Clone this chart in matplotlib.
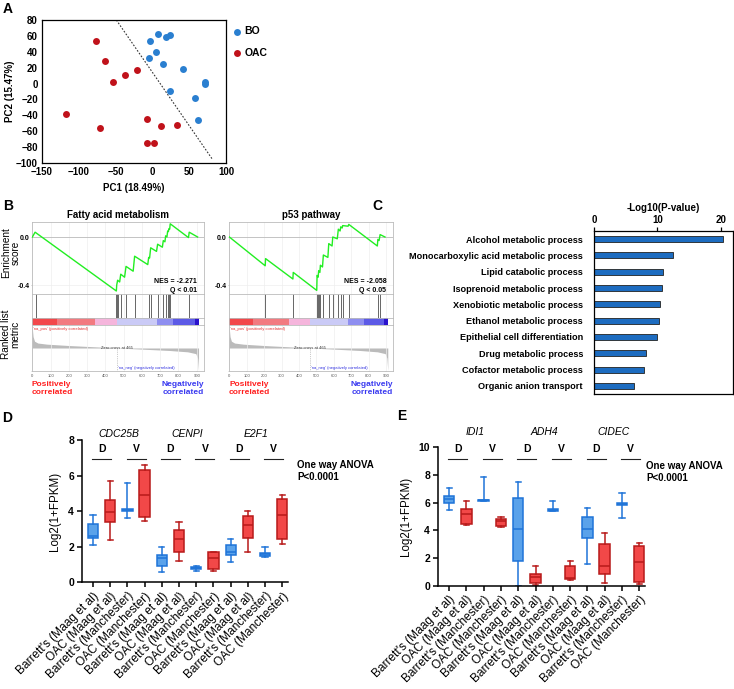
import matplotlib; matplotlib.use("Agg")
import matplotlib.pyplot as plt
import numpy as np

W, H = 734, 689
plt.rcParams['font.family'] = ['Liberation Sans', 'DejaVu Sans']
BLUE = "#2a7fd0"; RED = "#c0121a"

# ---------------- A: PCA ----------------
BO_PC1 = [7, -3, 19, 24, 5, -4, 15, 42, 72, 72, 24, 58, 62]
BO_PC2 = [63, 54, 59, 61, 40, 32, 25, 18, 2, -1, -9, -18, -46]
OAC_PC1 = [-76, -64, -21, -37, -54, -118, -71, -7, 12, 34, -7, 2]
OAC_PC2 = [53, 29, 17, 11, 2, -38, -56, -45, -53, -52, -75, -75]
DIVIDER_X = [-49, 82]
DIVIDER_Y = [80, -96]

# ---------------- B: GSEA ----------------
FA_ES_RANK = [0, 15, 460, 462, 467, 478, 484, 505, 513, 552, 560, 632, 637, 642, 648, 680, 686,
              712, 717, 726, 730, 737, 741, 745, 748, 752, 755, 855, 859, 905]
FA_ES = [0.0, 0.04, -0.45, -0.40, -0.36, -0.375, -0.31, -0.335, -0.245, -0.285, -0.16, -0.23, -0.17,
         -0.175, -0.09, -0.12, -0.06, -0.085, -0.03, -0.04, 0.01, 0.0, 0.05, 0.045, 0.07, 0.065, 0.11,
         -0.005, 0.04, 0.0]
FA_HITS = [18, 460, 466, 471, 484, 513, 560, 637, 648, 686, 717, 730, 741, 748, 755, 859]
P53_ES_RANK = [0, 206, 208, 365, 367, 502, 504, 510, 513, 520, 523, 535, 540, 566, 571, 590, 594,
               620, 626, 636, 640, 648, 651, 682, 686, 850, 853, 860, 866, 894]
P53_ES = [0.0, -0.24, -0.18, -0.35, -0.295, -0.445, -0.32, -0.335, -0.28, -0.295, -0.235, -0.25,
          -0.15, -0.17, -0.055, -0.075, 0.0, -0.015, 0.065, 0.05, 0.085, 0.075, 0.095, 0.09, 0.105,
          -0.075, -0.02, -0.03, 0.02, 0.0]
P53_HITS = [206, 365, 502, 507, 513, 523, 540, 571, 594, 626, 640, 651, 686, 853, 866]
BAR_EDGES = [0, 137, 343, 465, 681, 772, 890, 910]
BAR_COLORS = ["#f2474b", "#f27a80", "#f5b5dc", "#cacaf6", "#8e8ef0", "#5c5ae6", "#2a12cc"]
METRIC_RANK = [0, 4, 12, 30, 80, 200, 350, 465, 600, 750, 850, 895, 905, 910]
METRIC_VAL = [0.85, 0.5, 0.3, 0.22, 0.17, 0.11, 0.05, 0.0, -0.05, -0.11, -0.17, -0.25, -0.45, -1.0]
RANK_TICKS = [0, 100, 200, 300, 400, 500, 600, 700, 800, 900]

# ---------------- C: GO terms ----------------
GO_TERMS = ["Alcohol metabolic process", "Monocarboxylic acid metabolic process",
            "Lipid catabolic process", "Isoprenoid metabolic process",
            "Xenobiotic metabolic process", "Ethanol metabolic process",
            "Epithelial cell differentiation", "Drug metabolic process",
            "Cofactor metabolic process", "Organic anion transport"]
GO_LOGP = [20.3, 12.4, 10.9, 10.7, 10.4, 10.2, 10.0, 8.2, 7.9, 6.3]

# ---------------- D / E: boxplots ----------------
GROUPS = ["Barrett's (Maag et al)", "OAC (Maag et al)",
          "Barrett's (Manchester)", "OAC (Manchester)"] * 3
# (whislo, q1, med, q3, whishi)
D_GENES = ["CDC25B", "CENPI", "E2F1"]
D_STATS = [(2.07, 2.49, 2.62, 3.30, 3.77), (2.35, 3.37, 3.94, 4.65, 5.69),
           (3.62, 4.01, 4.07, 4.12, 5.56), (3.47, 3.65, 4.90, 6.29, 6.59),
           (0.58, 0.94, 1.36, 1.54, 2.00), (1.19, 1.73, 2.45, 2.94, 3.39),
           (0.62, 0.73, 0.79, 0.85, 0.92), (0.64, 0.77, 1.37, 1.68, 1.73),
           (1.13, 1.51, 1.73, 2.07, 2.45), (1.73, 2.49, 3.22, 3.73, 3.99),
           (1.43, 1.49, 1.58, 1.64, 1.96), (2.13, 2.43, 3.77, 4.69, 4.90)]
E_GENES = ["IDI1", "ADH4", "CIDEC"]
E_STATS = [(5.47, 5.95, 6.27, 6.48, 7.08), (4.36, 4.43, 5.16, 5.54, 6.14),
           (6.10, 6.12, 6.17, 6.22, 7.88), (4.22, 4.34, 4.67, 4.82, 4.94),
           (0.00, 1.81, 4.12, 6.31, 7.52), (0.05, 0.17, 0.65, 0.84, 1.42),
           (5.37, 5.40, 5.47, 5.52, 6.14), (0.42, 0.46, 0.55, 1.45, 1.81),
           (1.57, 3.47, 4.07, 4.99, 5.59), (0.22, 0.84, 1.45, 3.01, 3.78),
           (4.89, 5.83, 5.90, 5.95, 6.67), (0.12, 0.29, 1.69, 2.87, 3.06)]
SITES = ["D", "V"] * 3


def px(l, t, r, b):
    return [l / W, 1 - b / H, (r - l) / W, (b - t) / H]


def ftext(x, y, s, **kw):
    fig.text(x / W, 1 - y / H, s, **kw)


fig = plt.figure(figsize=(W / 100, H / 100), dpi=100)

# ---- A ----
ax = fig.add_axes(px(42, 20, 226, 163))
ax.scatter(BO_PC1, BO_PC2, s=25, color=BLUE, label="BO", zorder=3, linewidths=0)
ax.scatter(OAC_PC1, OAC_PC2, s=25, color=RED, label="OAC", zorder=3, linewidths=0)
ax.plot(DIVIDER_X, DIVIDER_Y, ls=(0, (1.5, 1.5)), color="#333333", lw=0.8)
ax.set_xlim(-150, 100); ax.set_ylim(-100, 80)
ax.set_xticks(range(-150, 101, 50)); ax.set_yticks(range(-100, 81, 20))
ax.tick_params(length=0, labelsize=7, pad=3)
for t in ax.get_xticklabels() + ax.get_yticklabels():
    t.set_fontweight("bold")
for s in ax.spines.values():
    s.set_linewidth(0.9)
ax.set_xlabel("PC1 (18.49%)", fontsize=7, fontweight="bold", labelpad=4)
ax.set_ylabel("PC2 (15.47%)", fontsize=7, fontweight="bold", labelpad=1)
ax.legend(loc="upper left", bbox_to_anchor=(1.0, 1.0), frameon=False, handletextpad=0.15,
          handlelength=1.0, markerscale=1.0, labelspacing=1.1, borderaxespad=0.2,
          prop=dict(size=7.5, weight="bold"))
ftext(3, 2, "A", fontsize=10, fontweight="bold", va="top")


# ---- B ----
def gsea(l, r, es_rank, es, hits, title, nes, q):
    xl = (-2, 940)
    a1 = fig.add_axes(px(l, 222, r, 294))
    a1.plot(es_rank, es, color="#22ee22", lw=1.0, zorder=3)
    a1.axhline(0, color="#bbbbbb", lw=0.6)
    a1.set_xlim(*xl); a1.set_ylim(-0.475, 0.125)
    a1.set_xticks(RANK_TICKS); a1.set_xticklabels([])
    a1.set_yticks([0.0, -0.4]); a1.set_yticklabels(["0.0", "-0.4"], fontsize=5, fontweight="bold")
    a1.tick_params(length=0.8, width=0.4, color="#999999", pad=0.8)
    a1.grid(True, color="#eeeeee", lw=0.5)
    a1.text(0.96, 0.22, f"NES = {nes}\nQ < {q}", transform=a1.transAxes, ha="right", va="top",
            fontsize=5, fontweight="bold", linespacing=1.35)
    a1.set_title(title, fontsize=7, fontweight="bold", pad=3)
    a2 = fig.add_axes(px(l, 294, r, 318))
    a2.vlines(hits, 0, 1, color="#666666", lw=0.7)
    a2.set_xlim(*xl); a2.set_ylim(0, 1)
    a2.set_xticks(RANK_TICKS); a2.set_yticks([])
    a2.tick_params(length=0, labelbottom=False)
    a2.grid(True, axis="x", color="#eeeeee", lw=0.5)
    a3 = fig.add_axes(px(l, 318, r, 325))
    for i, c in enumerate(BAR_COLORS):
        a3.axvspan(BAR_EDGES[i], BAR_EDGES[i + 1], color=c, lw=0)
    a3.set_xlim(*xl); a3.set_ylim(0, 1); a3.set_xticks([]); a3.set_yticks([])
    a4 = fig.add_axes(px(l, 325, r, 371))
    a4.fill_between(METRIC_RANK, METRIC_VAL, 0, color="#bbbbbb", lw=0)
    a4.axvline(465, ymax=0.5, color="#999999", lw=0.5, ls=":")
    a4.set_xlim(*xl); a4.set_ylim(-1.02, 1.02)
    a4.set_xticks(RANK_TICKS); a4.set_xticklabels([str(v) for v in RANK_TICKS], fontsize=3,
                                                   color="#555555")
    a4.set_yticks([])
    a4.tick_params(length=1, width=0.3, color="#999999", pad=1)
    a4.grid(True, axis="x", color="#eeeeee", lw=0.5)
    a4.text(5, 0.93, "'na_pos' (positively correlated)", fontsize=3, color="#e03030", va="top")
    a4.text(465, 0.0, "Zero cross at 465", fontsize=3, color="#333333", ha="center", va="center")
    a4.text(470, -0.9, "'na_neg' (negatively correlated)", fontsize=3, color="#3030e0", va="center")
    for a in (a1, a2, a3, a4):
        for s in a.spines.values():
            s.set_color("#bbbbbb"); s.set_linewidth(0.6)
    ftext(l, 381, "Positively\ncorrelated", fontsize=6, fontweight="bold", color="#ff2020",
          va="top", linespacing=1.25)
    ftext(r, 381, "Negatively\ncorrelated", fontsize=6, fontweight="bold", color="#3a3af0",
          va="top", ha="right", multialignment="right", linespacing=1.25)


gsea(32, 204, FA_ES_RANK, FA_ES, FA_HITS, "Fatty acid metabolism", "-2.271", "0.01")
gsea(229, 393, P53_ES_RANK, P53_ES, P53_HITS, "p53 pathway", "-2.058", "0.05")
ftext(10.5, 253, "Enrichment\nscore", rotation=90, ha="center", va="center", fontsize=7.2,
      linespacing=0.95)
ftext(10.5, 334, "Ranked list\nmetric", rotation=90, ha="center", va="center", fontsize=7.2,
      linespacing=0.95)
ftext(3, 199, "B", fontsize=10, fontweight="bold", va="top")

# ---- C ----
ax = fig.add_axes(px(594, 231, 733, 394))
yy = np.arange(len(GO_TERMS))
ax.barh(yy, GO_LOGP, height=0.38, color="#1d6cc0", edgecolor="#222222", lw=0.6)
ax.set_ylim(len(GO_TERMS) - 0.51, -0.49); ax.set_xlim(0, 21.9)
ax.set_yticks(yy); ax.set_yticklabels(GO_TERMS, fontsize=6.6, fontweight="bold")
ax.set_xticks([0, 10, 20])
ax.xaxis.tick_top(); ax.xaxis.set_label_position("top")
ax.tick_params(axis="y", length=0, pad=8)
ax.tick_params(axis="x", length=3, width=0.9, labelsize=7, pad=1.5)
for t in ax.get_xticklabels():
    t.set_fontweight("bold")
for s in ax.spines.values():
    s.set_linewidth(0.9)
ax.set_xlabel("-Log10(P-value)", fontsize=7, fontweight="bold", labelpad=3)
ftext(372, 199, "C", fontsize=10, fontweight="bold", va="top")


# ---- D / E ----
def boxes(rect, stats, genes, ymax, yt, gene_y, site_y, line_y, anova_xy):
    ax = fig.add_axes(px(*rect))
    bs = [dict(whislo=s[0], q1=s[1], med=s[2], q3=s[3], whishi=s[4], fliers=[]) for s in stats]
    art = ax.bxp(bs, positions=range(len(bs)), widths=0.6, patch_artist=True, showfliers=False)
    for i in range(len(bs)):
        edge = "#1f74d8" if i % 2 == 0 else "#b81a1a"
        face = "#5aa2ea" if i % 2 == 0 else "#f24848"
        art["boxes"][i].set(facecolor=face, edgecolor=edge, lw=1.1)
        art["medians"][i].set(color=edge, lw=1.1)
        for k in (2 * i, 2 * i + 1):
            art["whiskers"][k].set(color=edge, lw=1.1)
            art["caps"][k].set(color=edge, lw=1.1)
    ax.set_xlim(-0.66, len(bs) - 0.65); ax.set_ylim(0, ymax)
    ax.set_yticks(yt)
    ax.set_xticks(range(len(bs)))
    ax.set_xticklabels(GROUPS, rotation=45, ha="right", rotation_mode="anchor", fontsize=8.6)
    ax.tick_params(axis="x", length=3.5, width=1.1, pad=2)
    ax.tick_params(axis="y", length=3.5, width=1.1, labelsize=7.5, pad=2)
    for t in ax.get_yticklabels():
        t.set_fontweight("bold")
    for s in ("top", "right"):
        ax.spines[s].set_visible(False)
    for s in ("left", "bottom"):
        ax.spines[s].set_linewidth(1.1)
    ax.set_ylabel("Log2(1+FPKM)", fontsize=8.3, labelpad=5)
    for g, name in enumerate(genes):
        ax.text(4 * g + 1.5, gene_y, name, style="italic", fontsize=7.5, ha="center",
                va="center", clip_on=False)
    for p, site in enumerate(SITES):
        ax.text(2 * p + 0.5, site_y, site, fontsize=7.5, fontweight="bold", ha="center",
                va="center", clip_on=False)
        ax.plot([2 * p - 0.05, 2 * p + 1.05], [line_y, line_y], color="#222222", lw=0.8,
                clip_on=False)
    ftext(anova_xy[0], anova_xy[1], "One way ANOVA\nP<0.0001", fontsize=7, fontweight="bold",
          va="center", linespacing=1.3)


boxes((81.7, 440, 288.3, 582.3), D_STATS, D_GENES, 8, [0, 2, 4, 6, 8], 8.33, 7.49, 6.93, (297, 471))
boxes((437.7, 447.3, 645.3, 585.7), E_STATS, E_GENES, 10, [0, 2, 4, 6, 8, 10], 11.1, 9.88, 9.16,
      (646, 472))
ftext(2, 411, "D", fontsize=10, fontweight="bold", va="top")
ftext(397, 409, "E", fontsize=10, fontweight="bold", va="top")

fig.savefig("out.png", dpi=100, facecolor="white")
